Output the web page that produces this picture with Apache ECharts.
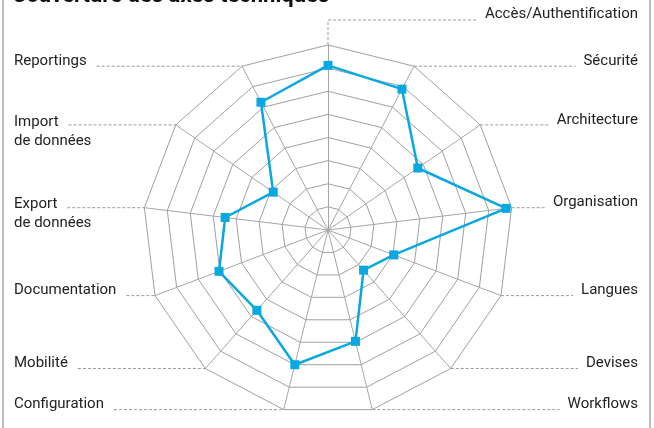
<!DOCTYPE html>
<html>
<head>
<meta charset="utf-8">
<script src="https://cdn.jsdelivr.net/npm/echarts@6/dist/echarts.min.js"></script>
<style>
  html, body { margin: 0; padding: 0; background: #fff; }
  #chart { width: 654px; height: 428px; }
</style>
</head>
<body>
<div id="chart"></div>
<script>
// Axes in radar order (ECharts places them counter-clockwise from the top)
const axisNames = [
  'Accès/Authentification', 'Reportings', 'Import\nde données', 'Export\nde données',
  'Documentation', 'Mobilité', 'Configuration', 'Workflows', 'Devises',
  'Langues', 'Organisation', 'Architecture', 'Sécurité'
];
// Where each axis name sits: top, left or right column
const axisSides = [
  'top', 'left', 'left', 'left', 'left', 'left', 'left',
  'right', 'right', 'right', 'right', 'right', 'right'
];
// Coverage score per axis (0–100)
const coverage = [89, 78, 36, 56, 63, 58, 75, 62, 29, 38, 97, 59, 86];
const scaleMax = 100;

const titleText = 'Couverture des axes techniques';

const CX = 328, CY = 230, R = 185;
const LABEL_FONT = '15px Roboto';
const LEFT_X = 14, RIGHT_X = 638;
const BLUE = '#0AA8E0';

const chart = echarts.init(document.getElementById('chart'), null, { renderer: 'canvas' });

const ctx = document.createElement('canvas').getContext('2d');
ctx.font = LABEL_FONT;
const textWidth = s => ctx.measureText(s).width;

// Outer vertex of each spoke, used to anchor the leader lines
function vertex(i) {
  const a = Math.PI / 2 + i * 2 * Math.PI / axisNames.length;
  return [CX + R * Math.cos(a), CY - R * Math.sin(a)];
}

const dash = { stroke: '#9a9a9a', lineWidth: 1, lineDash: [3, 2] };
const graphics = [
  {
    type: 'rect', silent: true,
    shape: { x: 3, y: -10, width: 647, height: 450 },
    style: { fill: 'none', stroke: '#a8a8a8', lineWidth: 1.5 }
  },
  {
    type: 'text', left: 12, top: -15,
    style: { text: titleText, font: 'bold 22px Roboto', fill: '#111' }
  }
];

axisNames.forEach((name, i) => {
  const [vx, vy] = vertex(i);
  const lines = name.split('\n');
  const w = textWidth(lines[0]);
  const multi = lines.length > 1;
  const ty = multi ? vy + 6.5 : vy - 5;
  if (axisSides[i] === 'top') {
    const x0 = RIGHT_X - w;
    graphics.push({ type: 'polyline', silent: true,
      shape: { points: [[vx, vy], [vx, 20], [x0 - 8, 20]] }, style: dash });
    graphics.push({ type: 'text', x: RIGHT_X, y: 14,
      style: { text: name, font: LABEL_FONT, fill: '#222', align: 'right', verticalAlign: 'middle' } });
  } else if (axisSides[i] === 'left') {
    graphics.push({ type: 'polyline', silent: true,
      shape: { points: [[LEFT_X + w + 10, vy], [vx, vy]] }, style: dash });
    graphics.push({ type: 'text', x: LEFT_X, y: ty,
      style: { text: name, font: LABEL_FONT, fill: '#222', align: 'left', verticalAlign: 'middle', lineHeight: 19 } });
  } else {
    graphics.push({ type: 'polyline', silent: true,
      shape: { points: [[vx, vy], [RIGHT_X - w - 8, vy]] }, style: dash });
    graphics.push({ type: 'text', x: RIGHT_X, y: ty,
      style: { text: name, font: LABEL_FONT, fill: '#222', align: 'right', verticalAlign: 'middle', lineHeight: 19 } });
  }
});

chart.setOption({
  animation: false,
  backgroundColor: '#fff',
  radar: {
    center: [CX, CY],
    radius: R,
    startAngle: 90,
    splitNumber: 8,
    shape: 'polygon',
    indicator: axisNames.map(n => ({ name: n, max: scaleMax, min: 0 })),
    axisName: { show: false },
    axisLine: { lineStyle: { color: '#a6a6a6', width: 1 } },
    splitLine: { lineStyle: { color: '#a0a0a0', width: 1 } },
    splitArea: { show: false },
    axisTick: { show: false },
    axisLabel: { show: false }
  },
  series: [{
    type: 'radar',
    symbol: 'rect',
    symbolSize: 9,
    lineStyle: { color: BLUE, width: 2.5 },
    itemStyle: { color: BLUE },
    data: [{ value: coverage, name: titleText }]
  }],
  graphic: graphics
});
</script>
</body>
</html>
